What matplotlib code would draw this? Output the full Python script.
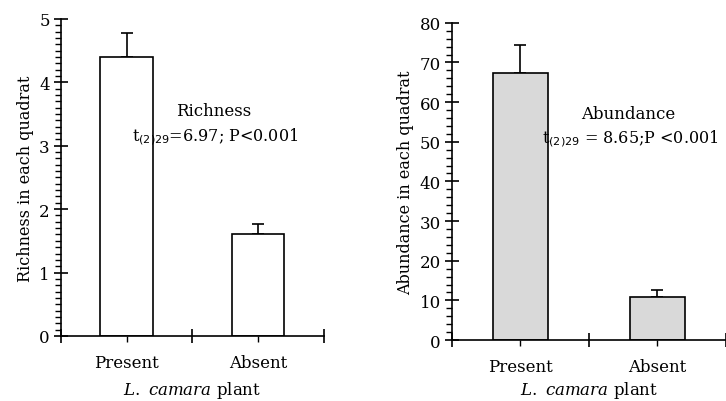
import matplotlib
matplotlib.use("Agg")
import matplotlib.pyplot as plt
from matplotlib.ticker import MultipleLocator, FixedLocator, NullFormatter

plt.rcParams['font.family'] = 'DejaVu Serif'
plt.rcParams['mathtext.fontset'] = 'custom'
plt.rcParams['mathtext.sf'] = 'DejaVu Sans'
plt.rcParams['mathtext.rm'] = 'DejaVu Serif'
plt.rcParams['mathtext.it'] = 'DejaVu Serif:italic'

# data
categories = ['Present', 'Absent']
richness = [4.4, 1.6]
richness_err = [0.38, 0.17]
abundance = [67.4, 10.9]
abundance_err = [6.9, 1.7]

FS = 12

fig = plt.figure(figsize=(7.26, 4.02), dpi=100)
ax1 = fig.add_axes([0.084, 0.1617, 0.362, 0.789])
ax2 = fig.add_axes([0.6226, 0.1517, 0.377, 0.789])

def style(ax, vals, errs, color, ymax, major, minor, ylabel, xpad):
    x = [0.5, 1.5]
    ax.bar(x, vals, width=0.4, color=color, edgecolor='black', linewidth=1.2, zorder=2)
    ax.errorbar(x, vals, yerr=[[0, 0], errs], fmt='none', ecolor='black',
                elinewidth=1.2, capsize=4, capthick=1.2, zorder=1)
    ax.set_xlim(0, 2)
    ax.set_ylim(0, ymax)
    for s in ['top', 'right']:
        ax.spines[s].set_visible(False)
    for s in ['left', 'bottom']:
        ax.spines[s].set_linewidth(1.2)
    ax.yaxis.set_major_locator(MultipleLocator(major))
    ax.yaxis.set_minor_locator(MultipleLocator(minor))
    ax.tick_params(axis='y', which='major', direction='inout', length=10, width=1.2,
                   labelsize=FS, pad=3)
    ax.tick_params(axis='y', which='minor', direction='out', length=4, width=1.0)
    # category boundaries as major ticks, labels on the centres
    ax.xaxis.set_major_locator(FixedLocator([0, 1, 2]))
    ax.xaxis.set_major_formatter(NullFormatter())
    ax.xaxis.set_minor_locator(FixedLocator(x))
    ax.set_xticks(x, categories, minor=True)
    ax.tick_params(axis='x', which='major', direction='inout', length=10, width=1.2)
    ax.tick_params(axis='x', which='minor', direction='out', length=4, width=1.0,
                   labelsize=FS, pad=9)
    ax.set_ylabel(ylabel, fontsize=11.5, labelpad=4)
    ax.set_xlabel(r'$\mathit{L.}$ $\mathit{camara}$ plant', fontsize=FS, labelpad=xpad)

style(ax1, richness, richness_err, 'white', 5, 1, 0.1, 'Richness in each quadrat', 6)
style(ax2, abundance, abundance_err, '#d9d9d9', 80, 10, 2, 'Abundance in each quadrat', 3)

ax1.text(1.16, 3.55, 'Richness', ha='center', va='center', fontsize=FS)
ax1.text(1.17, 3.15, r't$_{\mathsf{(2)29}}$=6.97; P<0.001', ha='center', va='center', fontsize=11.5)
ax2.text(1.29, 57.2, 'Abundance', ha='center', va='center', fontsize=FS)
ax2.text(1.30, 51.0, r't$_{\mathsf{(2)29}}$ = 8.65;P <0.001', ha='center', va='center', fontsize=11.5)

fig.savefig('out.png', dpi=100)
